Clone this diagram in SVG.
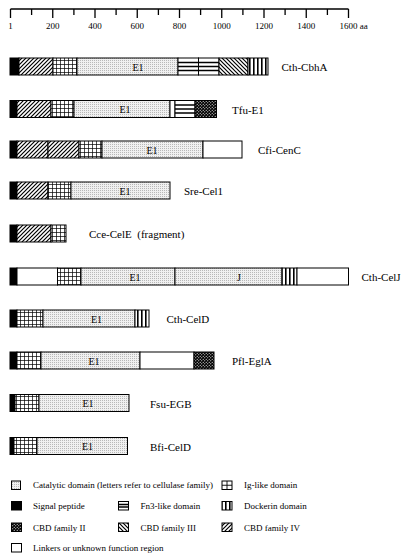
<svg xmlns="http://www.w3.org/2000/svg" width="405" height="558" viewBox="0 0 405 558">
<style>
text{font-family:"Liberation Serif","Times New Roman",serif;fill:#000}
.lbl{font-size:11px}
.sm{font-size:9px}
.e{font-size:10px;text-anchor:middle}
.ax{stroke:#000;stroke-width:1.3;fill:none}
.s{stroke:#000;stroke-width:1}
.sig{fill:#000}
.cat{fill:url(#pCat)}
.ig{fill:url(#pIg)}
.c4{fill:url(#pC4)}
.c3{fill:url(#pC3)}
.c2{fill:url(#pC2)}
.dk{fill:url(#pDk)}
.ln{fill:#fff}
.fn{fill:#fff}
.fl{stroke:#000;stroke-width:1.4}
</style>
<defs>
<pattern id="pCat" width="2" height="2" patternUnits="userSpaceOnUse"><rect width="2" height="2" fill="#f0f0f0"/><rect width="1" height="1" fill="#b8b8b8"/></pattern>
<pattern id="pIg" width="4" height="4" patternUnits="userSpaceOnUse"><rect width="4" height="4" fill="#fff"/><path d="M0 0.5H4M0.5 0V4" stroke="#000" stroke-width="0.7"/></pattern>
<pattern id="pC4" width="4" height="4" patternUnits="userSpaceOnUse"><rect width="4" height="4" fill="#fff"/><path d="M-1 1L1 -1M0 4L4 0M3 5L5 3" stroke="#000" stroke-width="1.2"/></pattern>
<pattern id="pC3" width="4" height="4" patternUnits="userSpaceOnUse"><rect width="4" height="4" fill="#fff"/><path d="M-1 3L1 5M0 0L4 4M3 -1L5 1" stroke="#000" stroke-width="1.2"/></pattern>
<pattern id="pC2" width="3" height="3" patternUnits="userSpaceOnUse"><rect width="3" height="3" fill="#000"/><circle cx="0.75" cy="0.75" r="0.6" fill="#fff"/><circle cx="2.25" cy="2.25" r="0.6" fill="#fff"/></pattern>
<pattern id="pDk" width="4" height="4" patternUnits="userSpaceOnUse"><rect width="4" height="4" fill="#fff"/><rect x="1" width="1.6" height="4" fill="#000"/></pattern>
</defs>

<g id="scale">
<path class="ax" d="M10.5 9H348.5"/>
<path class="ax" d="M10.5 9V18M31.6 9V15M52.75 9V18M73.9 9V15M95 9V18M116.1 9V15M137.25 9V18M158.4 9V15M179.5 9V18M200.6 9V15M221.75 9V18M242.9 9V15M264 9V18M285.1 9V15M306.25 9V18M327.4 9V15M348.5 9V18"/>
<g class="sm" text-anchor="middle">
<text x="10.5" y="29">1</text>
<text x="52.75" y="29">200</text>
<text x="95" y="29">400</text>
<text x="137.25" y="29">600</text>
<text x="179.5" y="29">800</text>
<text x="221.75" y="29">1000</text>
<text x="264" y="29">1200</text>
<text x="306.25" y="29">1400</text>
</g>
<text class="sm" x="339.5" y="29">1600 aa</text>
</g>

<g id="Cth-CbhA">
<rect class="s sig" x="10" y="58" width="9" height="17"/>
<rect class="s c4" x="19" y="58" width="34" height="17"/>
<rect class="s ig" x="53" y="58" width="24" height="17"/>
<rect class="s cat" x="77" y="58" width="101" height="17"/>
<rect class="s fn" x="178" y="58" width="20.5" height="17"/>
<path class="fl" d="M178 62.5H198.5M178 66.5H198.5M178 70.5H198.5"/>
<rect class="s fn" x="198.5" y="58" width="20.5" height="17"/>
<path class="fl" d="M198.5 62.5H219M198.5 66.5H219M198.5 70.5H219"/>
<rect class="s c3" x="219" y="58" width="29" height="17"/>
<rect class="s dk" x="248" y="58" width="20" height="17"/>
<text class="e" x="138" y="70.5">E1</text>
<text class="lbl" x="281.5" y="71">Cth-CbhA</text>
</g>

<g id="Tfu-E1">
<rect class="s sig" x="10" y="100.5" width="7" height="17"/>
<rect class="s c4" x="17" y="100.5" width="34" height="17"/>
<rect class="s ig" x="51" y="100.5" width="23" height="17"/>
<rect class="s cat" x="74" y="100.5" width="96" height="17"/>
<rect class="s ln" x="170" y="100.5" width="5" height="17"/>
<rect class="s fn" x="175" y="100.5" width="20" height="17"/>
<path class="fl" d="M175 105H195M175 109H195M175 113H195"/>
<rect class="s c2" x="195" y="100.5" width="21.5" height="17"/>
<text class="e" x="125" y="113">E1</text>
<text class="lbl" x="232" y="113.5">Tfu-E1</text>
</g>

<g id="Cfi-CenC">
<rect class="s sig" x="10" y="141" width="7" height="17"/>
<rect class="s c4" x="17" y="141" width="31" height="17"/>
<rect class="s c4" x="48" y="141" width="31" height="17"/>
<rect class="s ig" x="79" y="141" width="23" height="17"/>
<rect class="s cat" x="102" y="141" width="101" height="17"/>
<rect class="s ln" x="203" y="141" width="39" height="17"/>
<text class="e" x="152" y="153.5">E1</text>
<text class="lbl" x="258" y="154">Cfi-CenC</text>
</g>

<g id="Sre-Cel1">
<rect class="s sig" x="10" y="182" width="7" height="17"/>
<rect class="s c4" x="17" y="182" width="31" height="17"/>
<rect class="s ig" x="48" y="182" width="23" height="17"/>
<rect class="s cat" x="71" y="182" width="99" height="17"/>
<text class="e" x="125" y="194.5">E1</text>
<text class="lbl" x="184" y="195">Sre-Cel1</text>
</g>

<g id="Cce-CelE">
<rect class="s sig" x="10" y="225" width="7" height="17"/>
<rect class="s c4" x="17" y="225" width="34" height="17"/>
<rect class="s ig" x="51" y="225" width="15" height="17"/>
<text class="lbl" x="89" y="238" xml:space="preserve">Cce-CelE  (fragment)</text>
</g>

<g id="Cth-CelJ">
<rect class="s sig" x="10" y="268" width="7" height="17"/>
<rect class="s ln" x="17" y="268" width="40.5" height="17"/>
<rect class="s ig" x="57.5" y="268" width="23.5" height="17"/>
<rect class="s cat" x="81" y="268" width="94" height="17"/>
<rect class="s cat" x="175" y="268" width="107" height="17"/>
<rect class="s dk" x="282" y="268" width="15" height="17"/>
<rect class="s ln" x="297" y="268" width="51.5" height="17"/>
<text class="e" x="135" y="280.5">E1</text>
<text class="e" x="239" y="280.5">J</text>
<text class="lbl" x="361.5" y="281">Cth-CelJ</text>
</g>

<g id="Cth-CelD">
<rect class="s sig" x="10" y="310" width="7" height="17"/>
<rect class="s ig" x="17" y="310" width="26" height="17"/>
<rect class="s cat" x="43" y="310" width="92" height="17"/>
<rect class="s dk" x="135" y="310" width="14" height="17"/>
<text class="e" x="96.5" y="322.5">E1</text>
<text class="lbl" x="166.5" y="323">Cth-CelD</text>
</g>

<g id="Pfl-EglA">
<rect class="s sig" x="10" y="352" width="7" height="17"/>
<rect class="s ig" x="17" y="352" width="24" height="17"/>
<rect class="s cat" x="41" y="352" width="99" height="17"/>
<rect class="s ln" x="140" y="352" width="54" height="17"/>
<rect class="s c2" x="194" y="352" width="20" height="17"/>
<text class="e" x="94" y="364.5">E1</text>
<text class="lbl" x="232" y="365">Pfl-EglA</text>
</g>

<g id="Fsu-EGB">
<rect class="s sig" x="10" y="394.5" width="5" height="17"/>
<rect class="s ig" x="15" y="394.5" width="24" height="17"/>
<rect class="s cat" x="39" y="394.5" width="90" height="17"/>
<text class="e" x="88" y="407">E1</text>
<text class="lbl" x="150" y="407.5">Fsu-EGB</text>
</g>

<g id="Bfi-CelD">
<rect class="s sig" x="10" y="437.5" width="4" height="17"/>
<rect class="s ig" x="14" y="437.5" width="23" height="17"/>
<rect class="s cat" x="37" y="437.5" width="90.5" height="17"/>
<text class="e" x="87.5" y="450">E1</text>
<text class="lbl" x="150" y="450.5">Bfi-CelD</text>
</g>

<g id="legend">
<rect class="s cat" x="11.5" y="481" width="9" height="8.5"/>
<text class="sm" x="33" y="488">Catalytic domain (letters refer to cellulase family)</text>
<rect class="s ln" x="222" y="481" width="10" height="8.5"/>
<path d="M227 481V489.5M222 485.25H232" stroke="#000" stroke-width="0.9"/>
<text class="sm" x="244" y="488">Ig-like domain</text>

<rect class="s sig" x="11.5" y="501.5" width="10" height="8.5"/>
<text class="sm" x="33" y="509">Signal peptide</text>
<rect class="s fn" x="118.5" y="501.5" width="10" height="8.5"/>
<path class="fl" d="M118.5 504.5H128.5M118.5 507H128.5"/>
<text class="sm" x="140.5" y="509">Fn3-like domain</text>
<rect class="s dk" x="222" y="501.5" width="10" height="8.5"/>
<text class="sm" x="244" y="509">Dockerin domain</text>

<rect class="s c2" x="11.5" y="523" width="10" height="8.5"/>
<text class="sm" x="33" y="530.5">CBD family II</text>
<rect class="s c3" x="118.5" y="523" width="10" height="8.5"/>
<text class="sm" x="140.5" y="530.5">CBD family III</text>
<rect class="s c4" x="222" y="523" width="10" height="8.5"/>
<text class="sm" x="244" y="530.5">CBD family IV</text>

<rect class="s ln" x="11.5" y="543.5" width="10" height="8.5"/>
<text class="sm" x="33" y="551">Linkers or unknown function region</text>
</g>
</svg>
